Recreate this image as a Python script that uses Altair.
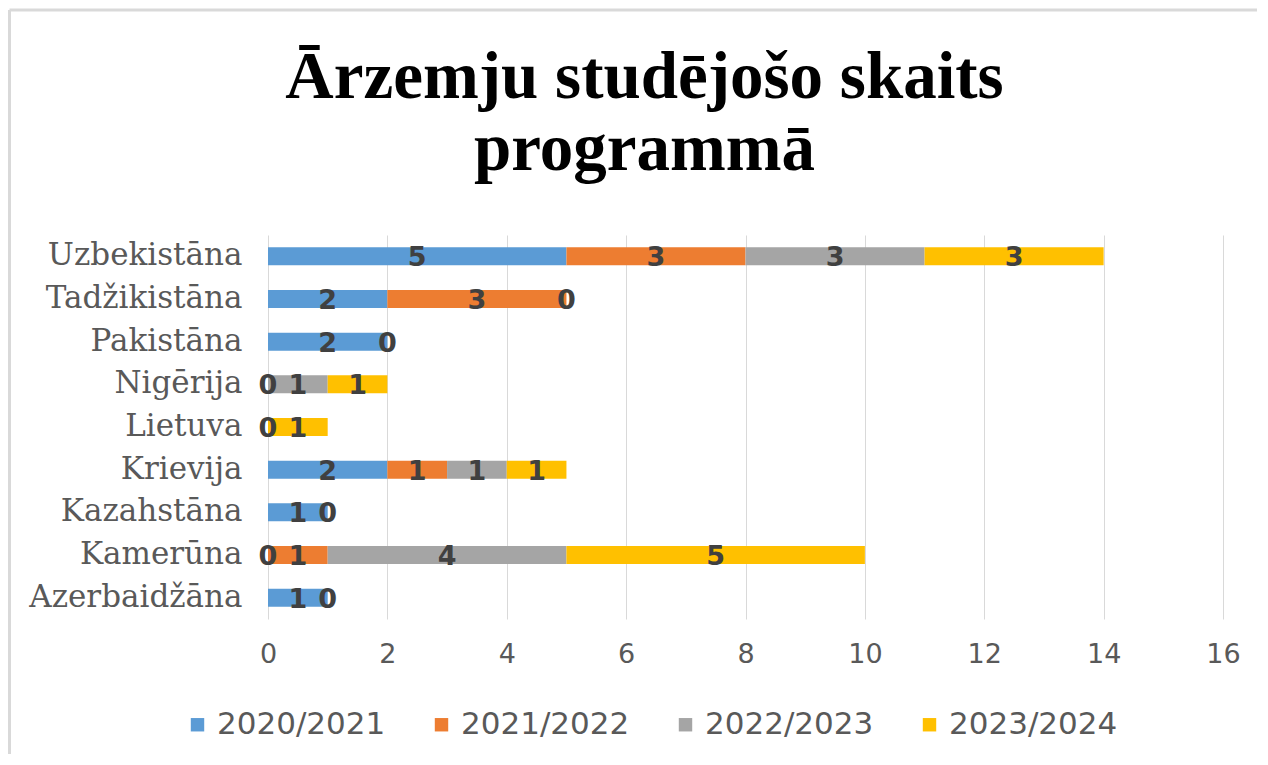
import altair as alt
import pandas as pd

countries = ["Uzbekistāna", "Tadžikistāna", "Pakistāna", "Nigērija", "Lietuva",
             "Krievija", "Kazahstāna", "Kamerūna", "Azerbaidžāna"]
years = ["2020/2021", "2021/2022", "2022/2023", "2023/2024"]
v2020 = [5, 2, 2, None, None, 2, 1, 0, 1]
v2021 = [3, 3, 0, 0, None, 1, 0, 1, 0]
v2022 = [3, 0, None, 1, 0, 1, None, 4, None]
v2023 = [3, None, None, 1, 1, 1, None, 5, None]
colors = ["#5B9BD5", "#ED7D31", "#A5A5A5", "#FFC000"]
x_ticks = [0, 2, 4, 6, 8, 10, 12, 14, 16]
title_lines = ["Ārzemju studējošo skaits", "programmā"]

rows = []
for yi, (yr, vals) in enumerate(zip(years, [v2020, v2021, v2022, v2023])):
    for c, v in zip(countries, vals):
        if v is not None:
            rows.append({"country": c, "year": yr, "ord": yi, "value": v})
df = pd.DataFrame(rows)

W, H = 955, 384

base = alt.Chart(df).transform_stack(
    stack="value", groupby=["country"], sort=[alt.SortField("ord")], as_=["x0", "x1"]
).transform_calculate(mid="(datum.x0 + datum.x1) / 2")

xaxis = alt.Axis(values=x_ticks, format="d", ticks=False, domain=False, grid=True,
                 gridColor="#D9D9D9", gridWidth=1, labelFont="DejaVu Sans",
                 labelFlush=False, labelFontSize=27, labelColor="#595959",
                 labelPadding=22)
yaxis = alt.Axis(ticks=False, domain=False, grid=False, labelFont="DejaVu Serif",
                 labelFontSize=31, labelColor="#595959", labelPadding=26,
                 labelLimit=400)
xscale = alt.Scale(domain=[0, 16], nice=False)

bars = base.mark_bar(size=18).encode(
    x=alt.X("x0:Q", scale=xscale, title=None, axis=xaxis),
    x2="x1:Q",
    y=alt.Y("country:N", sort=countries, title=None, axis=yaxis),
    color=alt.Color("year:N", scale=alt.Scale(domain=years, range=colors), title=None,
                    legend=alt.Legend(orient="none", legendX=-86, legendY=474,
                                      direction="horizontal", symbolType="square",
                                      symbolSize=180, symbolStrokeWidth=0,
                                      labelFont="DejaVu Sans", labelFontSize=31,
                                      labelColor="#595959", labelOffset=4,
                                      labelLimit=400, columnPadding=40, padding=0)),
)

labels = base.mark_text(font="DejaVu Sans", fontWeight="bold", fontSize=27,
                        color="#404040", baseline="middle", dy=2).encode(
    x=alt.X("mid:Q", scale=xscale, title=None, axis=xaxis),
    y=alt.Y("country:N", sort=countries, title=None, axis=yaxis),
    text=alt.Text("value:Q"),
)

frame_df = pd.DataFrame({"k": [0]})
left_line = alt.Chart(frame_df).mark_rule(color="#D9D9D9", strokeWidth=3).encode(
    x=alt.value(-258.5), y=alt.value(-225), y2=alt.value(519))
top_line = alt.Chart(frame_df).mark_rule(color="#D9D9D9", strokeWidth=3).encode(
    x=alt.value(-258.5), x2=alt.value(989), y=alt.value(-225))

chart = alt.layer(left_line, top_line, bars, labels).properties(
    width=W, height=H, padding=0, background="white",
    title=alt.TitleParams(text=title_lines, font="Liberation Serif", fontSize=67,
                          fontWeight="bold", color="#000000", lineHeight=72,
                          anchor="middle", frame="group", dx=-101, offset=-175),
).configure_view(stroke=None, strokeWidth=0)

chart.save("out.html", embed_options={"renderer": "svg", "actions": False})
